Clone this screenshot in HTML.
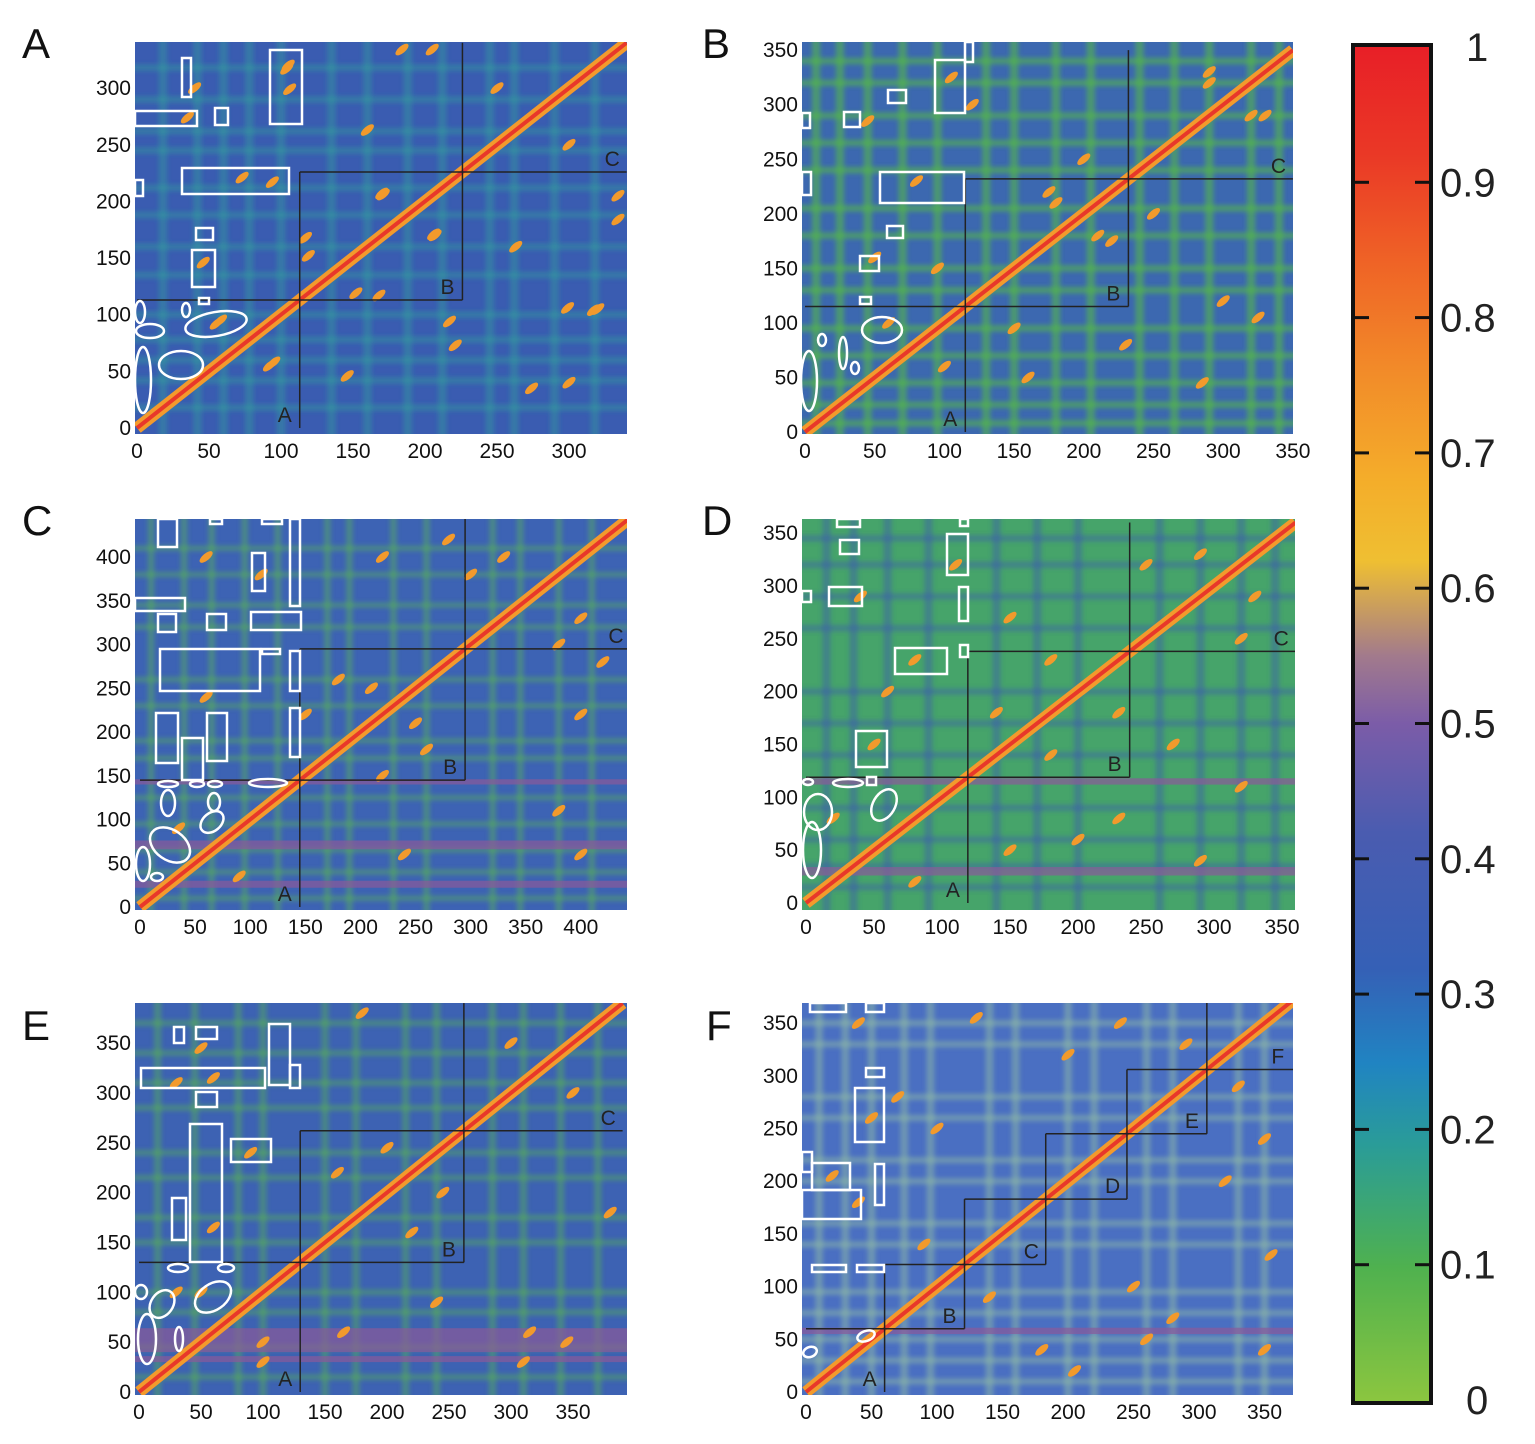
<!DOCTYPE html>
<html><head><meta charset="utf-8"><style>
html,body{margin:0;padding:0;background:#fff;}
svg{display:block;font-family:"Liberation Sans",sans-serif;}
</style></head><body>
<svg id="fig" width="1535" height="1444" viewBox="0 0 1535 1444" xmlns="http://www.w3.org/2000/svg">
<defs>
<linearGradient id="cbar" x1="0" y1="0" x2="0" y2="1">
<stop offset="0" stop-color="#e81f27"/><stop offset="0.08" stop-color="#ea3826"/>
<stop offset="0.16" stop-color="#ef6326"/><stop offset="0.24" stop-color="#f28b29"/>
<stop offset="0.32" stop-color="#f4ad2a"/><stop offset="0.38" stop-color="#efbf32"/>
<stop offset="0.45" stop-color="#a27a8c"/><stop offset="0.5" stop-color="#7b5ca8"/>
<stop offset="0.58" stop-color="#4a5cb0"/><stop offset="0.68" stop-color="#3560b6"/>
<stop offset="0.75" stop-color="#2084c2"/><stop offset="0.81" stop-color="#2a9c98"/>
<stop offset="0.9" stop-color="#4fb14f"/><stop offset="1" stop-color="#8cc63f"/>
</linearGradient>
<filter id="soft" x="-5%" y="-5%" width="110%" height="110%"><feGaussianBlur stdDeviation="2.5"/></filter>
</defs>
</svg>
<script>
// ---------- data ----------
const panelIds = ['A','B','C','D','E','F'];
const residueMax = [340, 350, 445, 360, 390, 372];
const domainBounds = [[113,226],[115,232],[145,295],[119,238],[130,262],[60,121,183,245,306]];
const domainLabels = [['A','B','C'],['A','B','C'],['A','B','C'],['A','B','C'],['A','B','C'],['A','B','C','D','E','F']];
const xTicks = [[0,50,100,150,200,250,300],[0,50,100,150,200,250,300,350],[0,50,100,150,200,250,300,350,400],[0,50,100,150,200,250,300,350],[0,50,100,150,200,250,300,350],[0,50,100,150,200,250,300,350]];
const yTicks = [[0,50,100,150,200,250,300],[0,50,100,150,200,250,300,350],[0,50,100,150,200,250,300,350,400],[0,50,100,150,200,250,300,350],[0,50,100,150,200,250,300,350],[0,50,100,150,200,250,300,350]];
const stripesA = [18,42,60,78,100,135,160,188,212,245,262,290,318];
const stripesB = [8,25,45,70,95,130,150,180,205,240,265,290,320,340];
const stripesC = [10,40,65,95,125,170,190,230,260,320,345,380,410];
const stripesD = [15,35,60,90,140,170,200,260,290,320,345];
const stripesE = [15,45,80,100,150,175,215,240,285,310,340,370];
const stripesF = [10,30,50,75,95,140,160,200,220,260,280,330,350];
const purpleBandsC = [[22,30],[66,76],[140,146]];
const purpleBandsD = [[26,34],[112,118]];
const purpleBandsE = [[30,36],[40,64]];
const purpleBandsF = [[55,61]];
const blobsA = [[105,320],[106,299],[35,274],[94,217],[73,221],[160,263],[46,146],[171,206],[207,170],[117,168],[119,152],[184,334],[205,334],[92,55],[58,95],[317,104],[300,40],[250,300]];
const blobsB = [[105,325],[45,285],[80,230],[50,160],[100,60],[175,220],[210,180],[150,95],[300,120],[320,290],[290,330],[250,200]];
const blobsC = [[60,400],[110,380],[220,400],[180,260],[60,240],[35,90],[220,150],[250,210],[380,300],[330,400],[420,280]];
const blobsD = [[110,320],[40,290],[80,230],[50,150],[20,80],[180,230],[140,180],[290,330],[320,250],[270,150],[200,60]];
const blobsE = [[50,345],[60,315],[30,310],[90,240],[60,165],[50,100],[200,245],[180,380],[300,350],[220,160],[100,30]];
const blobsF = [[40,350],[130,355],[50,260],[70,280],[20,205],[40,180],[200,320],[160,160],[250,100],[290,330],[350,240],[90,140]];
const bgColor = ['#3a5cb1','#3c68b0','#3d63b4','#46a46a','#3d62b3','#4a6fc2'];
const stripeColor = ['#2fa59a','#55b84a','#5cb554','#3c5bb0','#58b452','#92bca6'];
const stripeOpacity = [0.4,0.6,0.45,0.45,0.45,0.5];

// ---------- layout ----------
const layout = [
 {l:135,t:42,r:627,b:434,x0:137,sx:1.44,y0:428,sy:1.133,lx:22,ly:58},
 {l:802,t:42,r:1293,b:434,x0:805,sx:1.394,y0:432,sy:1.091,lx:702,ly:58},
 {l:135,t:519,r:627,b:910,x0:140,sx:1.102,y0:907,sy:0.875,lx:22,ly:535},
 {l:802,t:519,r:1295,b:910,x0:806,sx:1.36,y0:903,sy:1.057,lx:702,ly:535},
 {l:135,t:1003,r:627,b:1395,x0:139,sx:1.24,y0:1392,sy:0.997,lx:22,ly:1040},
 {l:802,t:1003,r:1293,b:1395,x0:806,sx:1.31,y0:1392,sy:1.054,lx:706,ly:1040}
];
const stripes=[stripesA,stripesB,stripesC,stripesD,stripesE,stripesF];
const bands=[[],[],purpleBandsC,purpleBandsD,purpleBandsE,purpleBandsF];
const blobs=[blobsA,blobsB,blobsC,blobsD,blobsE,blobsF];
const annRects=[
 [[135,111,197,126],[182,58,191,97],[215,108,228,125],[270,50,302,124],[182,168,289,194],[135,180,143,196],[196,228,213,240],[192,250,215,287],[199,298,209,304]],
 [[802,113,810,128],[844,112,860,127],[888,90,906,103],[935,60,965,113],[965,42,973,62],[880,172,964,203],[802,172,811,195],[887,226,903,238],[860,256,879,271],[860,297,871,304]],
 [[158,519,177,547],[210,519,222,524],[262,519,282,524],[290,519,300,606],[135,598,185,611],[158,614,176,632],[207,614,226,630],[252,553,265,591],[251,612,301,630],[160,649,260,691],[262,649,280,654],[290,651,300,691],[156,713,178,763],[182,738,203,780],[207,713,227,761],[290,708,300,757]],
 [[837,519,860,527],[840,540,859,554],[829,587,862,606],[802,591,811,602],[947,534,968,575],[960,519,968,526],[959,587,968,621],[960,645,968,657],[895,648,947,674],[856,731,887,767],[867,777,876,785]],
 [[174,1027,184,1043],[196,1027,217,1039],[269,1024,290,1085],[290,1065,300,1088],[141,1068,265,1088],[196,1092,217,1107],[190,1124,222,1262],[231,1139,271,1162],[172,1198,186,1240]],
 [[810,1003,846,1012],[866,1003,884,1012],[866,1068,884,1077],[855,1088,884,1142],[802,1152,812,1172],[812,1163,850,1190],[802,1190,861,1219],[875,1164,884,1205],[812,1265,846,1272],[857,1265,884,1272]]
];
const annEll=[
 [[143,380,8,33,0],[181,365,22,14,0],[150,331,14,7,0],[140,312,5,11,0],[186,310,4,7,0],[216,324,31,12,-10]],
 [[809,381,8,30,0],[822,340,4,6,0],[843,353,4,16,0],[855,368,4,6,0],[882,330,20,13,0]],
 [[168,784,10,3,0],[197,784,7,3,0],[215,784,7,3,0],[268,783,19,4,0],[168,803,7,13,0],[214,802,6,9,0],[212,822,13,9,-40],[170,845,22,15,35],[143,864,7,17,0],[157,877,6,4,0]],
 [[808,782,5,3,0],[848,783,15,4,0],[884,805,11,17,30],[818,812,14,18,0],[812,850,9,28,0]],
 [[178,1268,10,4,0],[226,1268,8,4,0],[213,1297,20,13,-35],[141,1292,6,7,0],[162,1304,11,15,35],[147,1339,9,25,0],[179,1339,4,12,0]],
 [[866,1336,9,5,-20],[810,1352,7,5,-20]]
];

const NS='http://www.w3.org/2000/svg';
const svg=document.getElementById('fig');
const defs=svg.querySelector('defs');
function mk(tag,attrs,parent){const e=document.createElementNS(NS,tag);for(const k in attrs)e.setAttribute(k,attrs[k]);(parent||svg).appendChild(e);return e;}

panelIds.forEach((pid,i)=>{
 const L=layout[i], M=residueMax[i];
 const X=v=>L.x0+v*L.sx, Y=v=>L.y0-v*L.sy;
 const cp=mk('clipPath',{id:'clip'+i},defs); mk('rect',{x:L.l,y:L.t,width:L.r-L.l,height:L.b-L.t},cp);
 const g=mk('g',{'clip-path':'url(#clip'+i+')'});
 
 
 mk('rect',{x:L.l,y:L.t,width:L.r-L.l,height:L.b-L.t,fill:bgColor[i]},g);
 const sg=mk('g',{filter:'url(#soft)'},g);
 stripes[i].forEach(s=>{
  const vs=mk('rect',{x:X(s-3),y:L.t-10,width:6*L.sx,height:L.b-L.t+20,fill:stripeColor[i],opacity:stripeOpacity[i]},sg);
  
  
  const hs=mk('rect',{x:L.l-10,y:Y(s+3),width:L.r-L.l+20,height:6*L.sy,fill:stripeColor[i],opacity:stripeOpacity[i]},sg);
  
  
 });
 bands[i].forEach(b=>{
  const r=mk('rect',{x:L.l,y:Y(b[1]),width:L.r-L.l,height:(b[1]-b[0])*L.sy,fill:'#8a5a9a',opacity:0.7},g);
  
  
 });
 blobs[i].forEach(p=>{
  [[p[0],p[1]],[p[1],p[0]]].forEach(q=>{
   const e=mk('ellipse',{cx:X(q[0]),cy:Y(q[1]),rx:8,ry:3.5,fill:'#f29a2c',transform:'rotate(-40 '+X(q[0])+' '+Y(q[1])+')'},g);
   
   
  });
 });
 const dg=mk('line',{x1:X(0),y1:Y(0),x2:X(M),y2:Y(M),stroke:'#f39a2c','stroke-width':12},g);
 
 
 const dc=mk('line',{x1:X(0),y1:Y(0),x2:X(M),y2:Y(M),stroke:'#e8382a','stroke-width':4},g);
 
 
 const B=[0].concat(domainBounds[i]).concat([M]);
 for(let k=1;k<B.length-1;k++){
  const v=mk('line',{x1:X(B[k]),y1:Y(B[k-1]),x2:X(B[k]),y2:Y(B[k+1]),stroke:'#222','stroke-width':1.5},g);
  
  
  const h=mk('line',{x1:X(B[k-1]),y1:Y(B[k]),x2:X(B[k+1]),y2:Y(B[k]),stroke:'#222','stroke-width':1.5},g);
  
  
 }
 for(let k=0;k<B.length-1;k++){
  const t=mk('text',{x:X(B[k+1])-22,y:Y(B[k])-6,'font-size':21,fill:'#222'},g);
  t.textContent=domainLabels[i][k];
  
  
 }
 annRects[i].forEach(r=>{
  const e=mk('rect',{x:r[0],y:r[1],width:r[2]-r[0],height:r[3]-r[1],fill:'none',stroke:'#fff','stroke-width':2.5},g);
  
  
 });
 annEll[i].forEach(r=>{
  const e=mk('ellipse',{cx:r[0],cy:r[1],rx:r[2],ry:r[3],fill:'none',stroke:'#fff','stroke-width':2.5,transform:'rotate('+r[4]+' '+r[0]+' '+r[1]+')'},g);
  
  
 });
 xTicks[i].forEach(v=>{
  const t=mk('text',{x:X(v),y:L.b+24,'font-size':21,'text-anchor':'middle',fill:'#111'});
  t.textContent=v;
  
  
 });
 yTicks[i].forEach(v=>{
  const t=mk('text',{x:L.l-4,y:Y(v)+7,'font-size':21,'text-anchor':'end',fill:'#111'});
  t.textContent=v;
  
  
 });
 const pl=mk('text',{x:L.lx,y:L.ly,'font-size':42,fill:'#111'});
 pl.textContent=pid;
 
 
});

const cbValues=[1,0.9,0.8,0.7,0.6,0.5,0.4,0.3,0.2,0.1,0];
const cb=mk('rect',{x:1353,y:45,width:78,height:1358,fill:'url(#cbar)',stroke:'#111','stroke-width':4});


cbValues.forEach((v,k)=>{
 const y=1400-v*1353;
 if(v>0&&v<1){
  const a=mk('line',{x1:1355,y1:y,x2:1369,y2:y,stroke:'#111','stroke-width':3});
  
  
  const b=mk('line',{x1:1415,y1:y,x2:1429,y2:y,stroke:'#111','stroke-width':3});
  
  
 }
 const t=mk('text',{x:(v===0||v===1)?1466:1440,y:y+14,'font-size':40,fill:'#222'});
 t.textContent=String(v);
 
 
});
</script>
</body></html>
